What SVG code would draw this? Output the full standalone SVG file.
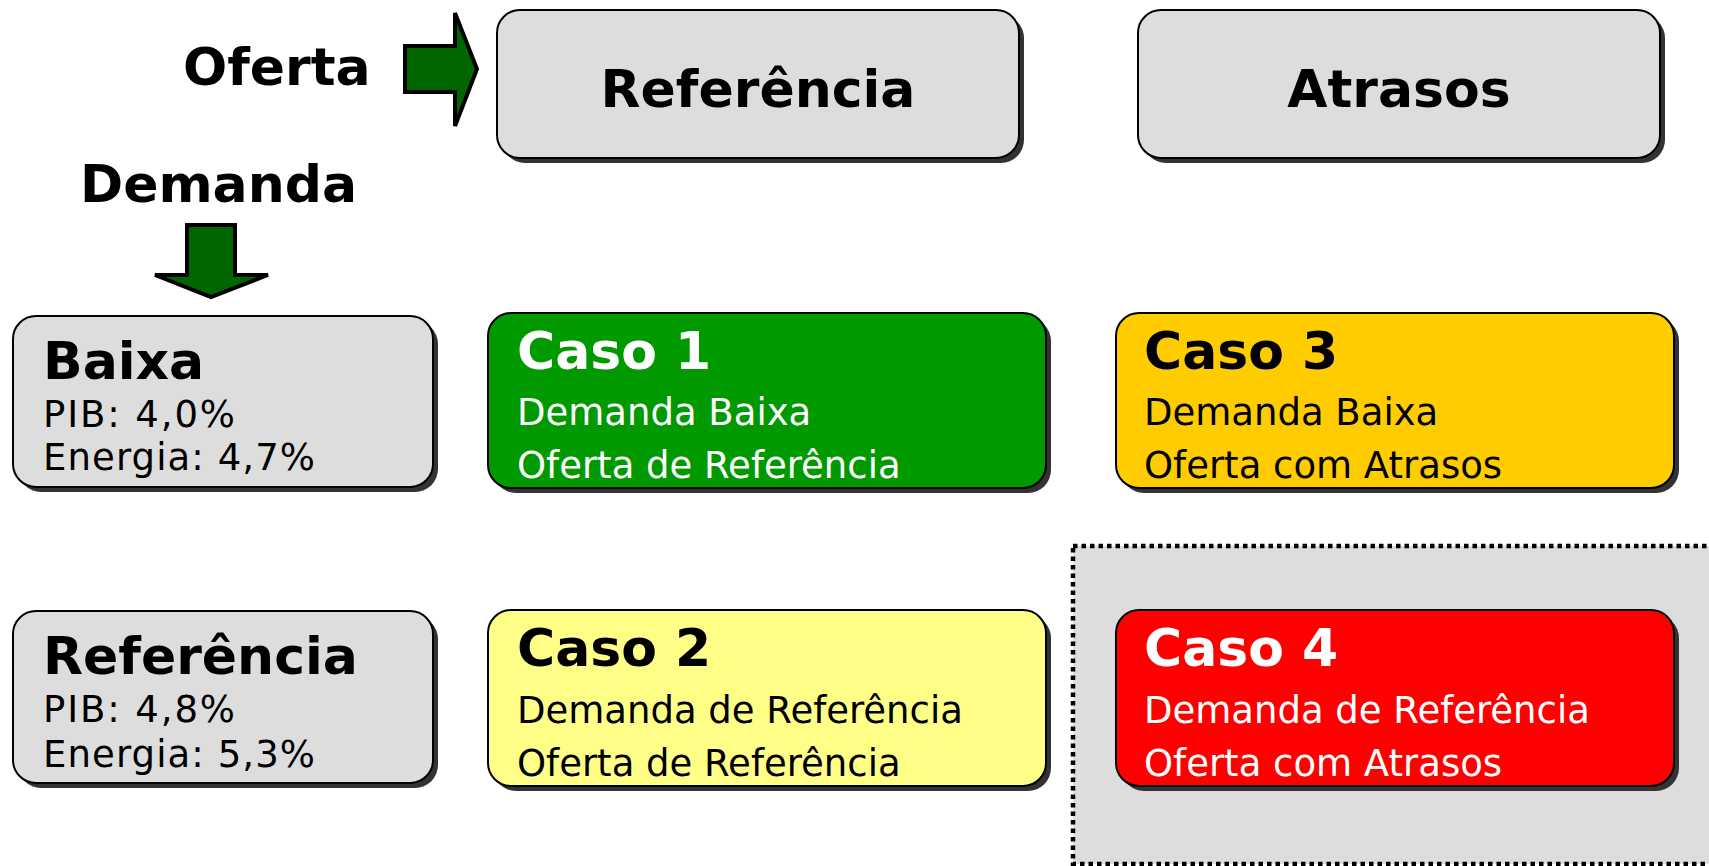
<svg xmlns="http://www.w3.org/2000/svg" width="1709" height="866" viewBox="0 0 1709 866">
<style>
  .shadow { fill: #333333; }
  .box { stroke: #000000; stroke-width: 2; }
  .gray { fill: #DDDDDD; }
  .b { font-family: "DejaVu Sans", Verdana, sans-serif; font-weight: bold; font-size: 52px; }
  .r { font-family: "DejaVu Sans", Verdana, sans-serif; font-size: 37px; }
  .arrow { fill: #006600; stroke: #000000; stroke-width: 4; stroke-linejoin: miter; }
  .white { fill: #FFFFFF; }
  .black { fill: #000000; }
</style>
<rect width="1709" height="866" fill="#FFFFFF"/>

<g id="highlight">
  <rect x="1073" y="546" width="650" height="318" fill="#DDDDDD" stroke="#000000" stroke-width="4.5" stroke-dasharray="4.5 4"/>
</g>

<g id="label-oferta">
  <text class="b black" x="183" y="85">Oferta</text>
</g>
<g id="label-demanda">
  <text class="b black" x="80" y="202">Demanda</text>
</g>

<g id="connectors">
  <polygon class="arrow" points="405,46 455,46 455,13 477,69 455,126 455,92 405,92"/>
  <polygon class="arrow" points="187,225 235,225 235,275 268,275 211,297 155,275 187,275"/>
</g>

<g id="col-referencia">
  <rect class="shadow" x="502" y="15" width="522" height="148" rx="23"/>
  <rect class="box gray" x="497" y="10" width="522" height="148" rx="23"/>
  <text class="b black" x="758" y="107" text-anchor="middle">Referência</text>
</g>

<g id="col-atrasos">
  <rect class="shadow" x="1143" y="15" width="522" height="148" rx="23"/>
  <rect class="box gray" x="1138" y="10" width="522" height="148" rx="23"/>
  <text class="b black" x="1399" y="107" text-anchor="middle">Atrasos</text>
</g>

<g id="row-baixa">
  <rect class="shadow" x="18" y="321" width="420" height="171" rx="23"/>
  <rect class="box gray" x="13" y="316" width="420" height="171" rx="23"/>
  <text class="b black" x="43" y="379">Baixa</text>
  <text class="r black" x="43" y="427" textLength="192" lengthAdjust="spacing">PIB: 4,0%</text>
  <text class="r black" x="43" y="470" textLength="272" lengthAdjust="spacing">Energia: 4,7%</text>
</g>

<g id="row-referencia">
  <rect class="shadow" x="18" y="616" width="420" height="172" rx="23"/>
  <rect class="box gray" x="13" y="611" width="420" height="172" rx="23"/>
  <text class="b black" x="43" y="674">Referência</text>
  <text class="r black" x="43" y="722" textLength="192" lengthAdjust="spacing">PIB: 4,8%</text>
  <text class="r black" x="43" y="767" textLength="272" lengthAdjust="spacing">Energia: 5,3%</text>
</g>

<g id="caso1">
  <rect class="shadow" x="493" y="318" width="558" height="175" rx="23"/>
  <rect class="box" x="488" y="313" width="558" height="175" rx="23" fill="#009900"/>
  <text class="b white" x="517" y="369">Caso 1</text>
  <text class="r white" x="517" y="425">Demanda Baixa</text>
  <text class="r white" x="517" y="478">Oferta de Referência</text>
</g>

<g id="caso3">
  <rect class="shadow" x="1121" y="318" width="558" height="175" rx="23"/>
  <rect class="box" x="1116" y="313" width="558" height="175" rx="23" fill="#FFCC00"/>
  <text class="b black" x="1144" y="369">Caso 3</text>
  <text class="r black" x="1144" y="425">Demanda Baixa</text>
  <text class="r black" x="1144" y="478">Oferta com Atrasos</text>
</g>

<g id="caso2">
  <rect class="shadow" x="493" y="615" width="558" height="176" rx="23"/>
  <rect class="box" x="488" y="610" width="558" height="176" rx="23" fill="#FFFF88"/>
  <text class="b black" x="517" y="666">Caso 2</text>
  <text class="r black" x="517" y="723">Demanda de Referência</text>
  <text class="r black" x="517" y="776">Oferta de Referência</text>
</g>

<g id="caso4">
  <rect class="shadow" x="1121" y="615" width="558" height="176" rx="23"/>
  <rect class="box" x="1116" y="610" width="558" height="176" rx="23" fill="#FF0000"/>
  <text class="b white" x="1144" y="666">Caso 4</text>
  <text class="r white" x="1144" y="723">Demanda de Referência</text>
  <text class="r white" x="1144" y="776">Oferta com Atrasos</text>
</g>
</svg>
